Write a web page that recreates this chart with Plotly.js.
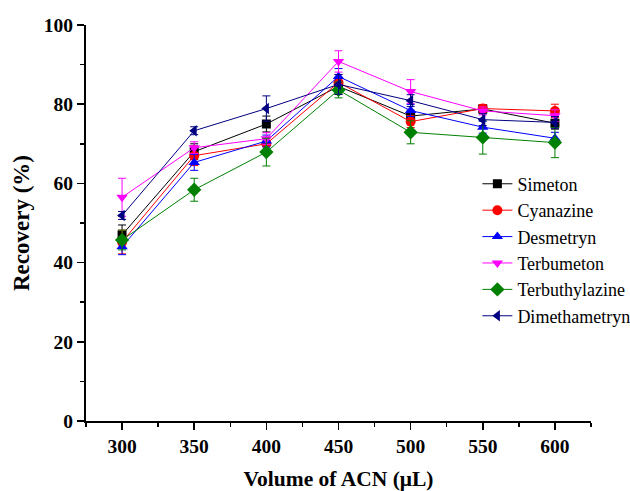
<!DOCTYPE html>
<html>
<head>
<meta charset="utf-8">
<script src="https://cdn.plot.ly/plotly-3.0.1.min.js"></script>
<style>html,body{margin:0;padding:0;background:#fff;}#chart{width:630px;height:491px;}</style>
</head>
<body>
<div id="chart"></div>
<script>
const volumes = [300, 350, 400, 450, 500, 550, 600];
const seriesNames = ["Simeton", "Cyanazine", "Desmetryn", "Terbumeton", "Terbuthylazine", "Dimethametryn"];
const simeton = [47.0, 68.0, 75.0, 84.5, 77.0, 78.8, 75.2];
const simetonErr = [2.5, 2.0, 2.0, 2.0, 1.5, 1.0, 1.5];
const cyanazine = [45.2, 67.0, 70.0, 85.5, 75.6, 78.9, 78.3];
const cyanazineErr = [3.0, 2.5, 1.5, 2.0, 1.5, 1.0, 1.7];
const desmetryn = [44.0, 65.3, 70.7, 87.0, 78.4, 74.2, 71.4];
const desmetrynErr = [2.0, 2.0, 1.5, 2.0, 1.5, 1.5, 1.5];
const terbumeton = [56.5, 69.0, 71.3, 90.8, 83.2, 78.3, 77.1];
const terbumetonErr = [4.8, 1.5, 1.5, 2.7, 3.0, 1.0, 1.5];
const terbuthylazine = [45.7, 58.4, 67.9, 83.6, 72.9, 71.6, 70.3];
const terbuthylazineErr = [2.5, 2.9, 3.5, 2.0, 2.9, 4.2, 3.8];
const dimethametryn = [51.9, 73.3, 78.9, 85.0, 80.9, 76.1, 75.4];
const dimethametrynErr = [1.0, 1.0, 3.2, 2.5, 1.5, 1.5, 1.5];

const values = [simeton, cyanazine, desmetryn, terbumeton, terbuthylazine, dimethametryn];
const errors = [simetonErr, cyanazineErr, desmetrynErr, terbumetonErr, terbuthylazineErr, dimethametrynErr];
const colors = ["#000000", "#ff0000", "#0000ff", "#ff00ff", "#008000", "#000080"];
const symbols = ["square", "circle", "triangle-up", "triangle-down", "diamond", "triangle-left"];
const sizes = [9, 10, 10, 10, 11, 10];

const traces = seriesNames.map((name, i) => ({
  x: volumes,
  y: values[i],
  name: name,
  type: "scatter",
  mode: "lines+markers",
  line: {color: colors[i], width: 1},
  marker: {symbol: symbols[i], color: colors[i], size: sizes[i]},
  error_y: {type: "data", array: errors[i], visible: true, color: colors[i], thickness: 1, width: 4}
}));

const font = "Liberation Serif, Times New Roman, serif";
const layout = {
  width: 630, height: 491,
  margin: {l: 86, r: 39, t: 25, b: 70, autoexpand: false},
  paper_bgcolor: "#ffffff", plot_bgcolor: "#ffffff",
  showlegend: true,
  legend: {
    x: 0.775, y: 0.645, xanchor: "left", yanchor: "top",
    font: {family: font, size: 18, color: "#000"},
    bgcolor: "rgba(0,0,0,0)", tracegroupgap: 0
  },
  xaxis: {
    range: [275, 625], tickvals: volumes, ticktext: volumes.map(String),
    showgrid: false, zeroline: false, showline: true, linecolor: "#000", linewidth: 2,
    ticks: "outside", ticklen: 7, tickwidth: 1.5, tickcolor: "#000",
    minor: {tickvals: [275, 325, 375, 425, 475, 525, 575, 625], ticks: "outside", ticklen: 4, tickwidth: 1.5, tickcolor: "#000"},
    tickfont: {family: font, size: 19.5, color: "#000", weight: "bold"},
    title: {text: "Volume of ACN (μL)", font: {family: font, size: 21.5, color: "#000", weight: "bold"}, standoff: 17}
  },
  yaxis: {
    range: [0, 100], dtick: 20,
    showgrid: false, zeroline: false, showline: true, linecolor: "#000", linewidth: 2,
    ticks: "outside", ticklen: 7, tickwidth: 1.5, tickcolor: "#000",
    minor: {dtick: 10, ticks: "outside", ticklen: 4, tickwidth: 1.5, tickcolor: "#000"},
    tickfont: {family: font, size: 19.5, color: "#000", weight: "bold"},
    title: {text: "Recovery (%)", font: {family: font, size: 23, color: "#000", weight: "bold"}, standoff: 8}
  }
};

Plotly.newPlot("chart", traces, layout, {displayModeBar: false, staticPlot: true});
</script>
</body>
</html>
